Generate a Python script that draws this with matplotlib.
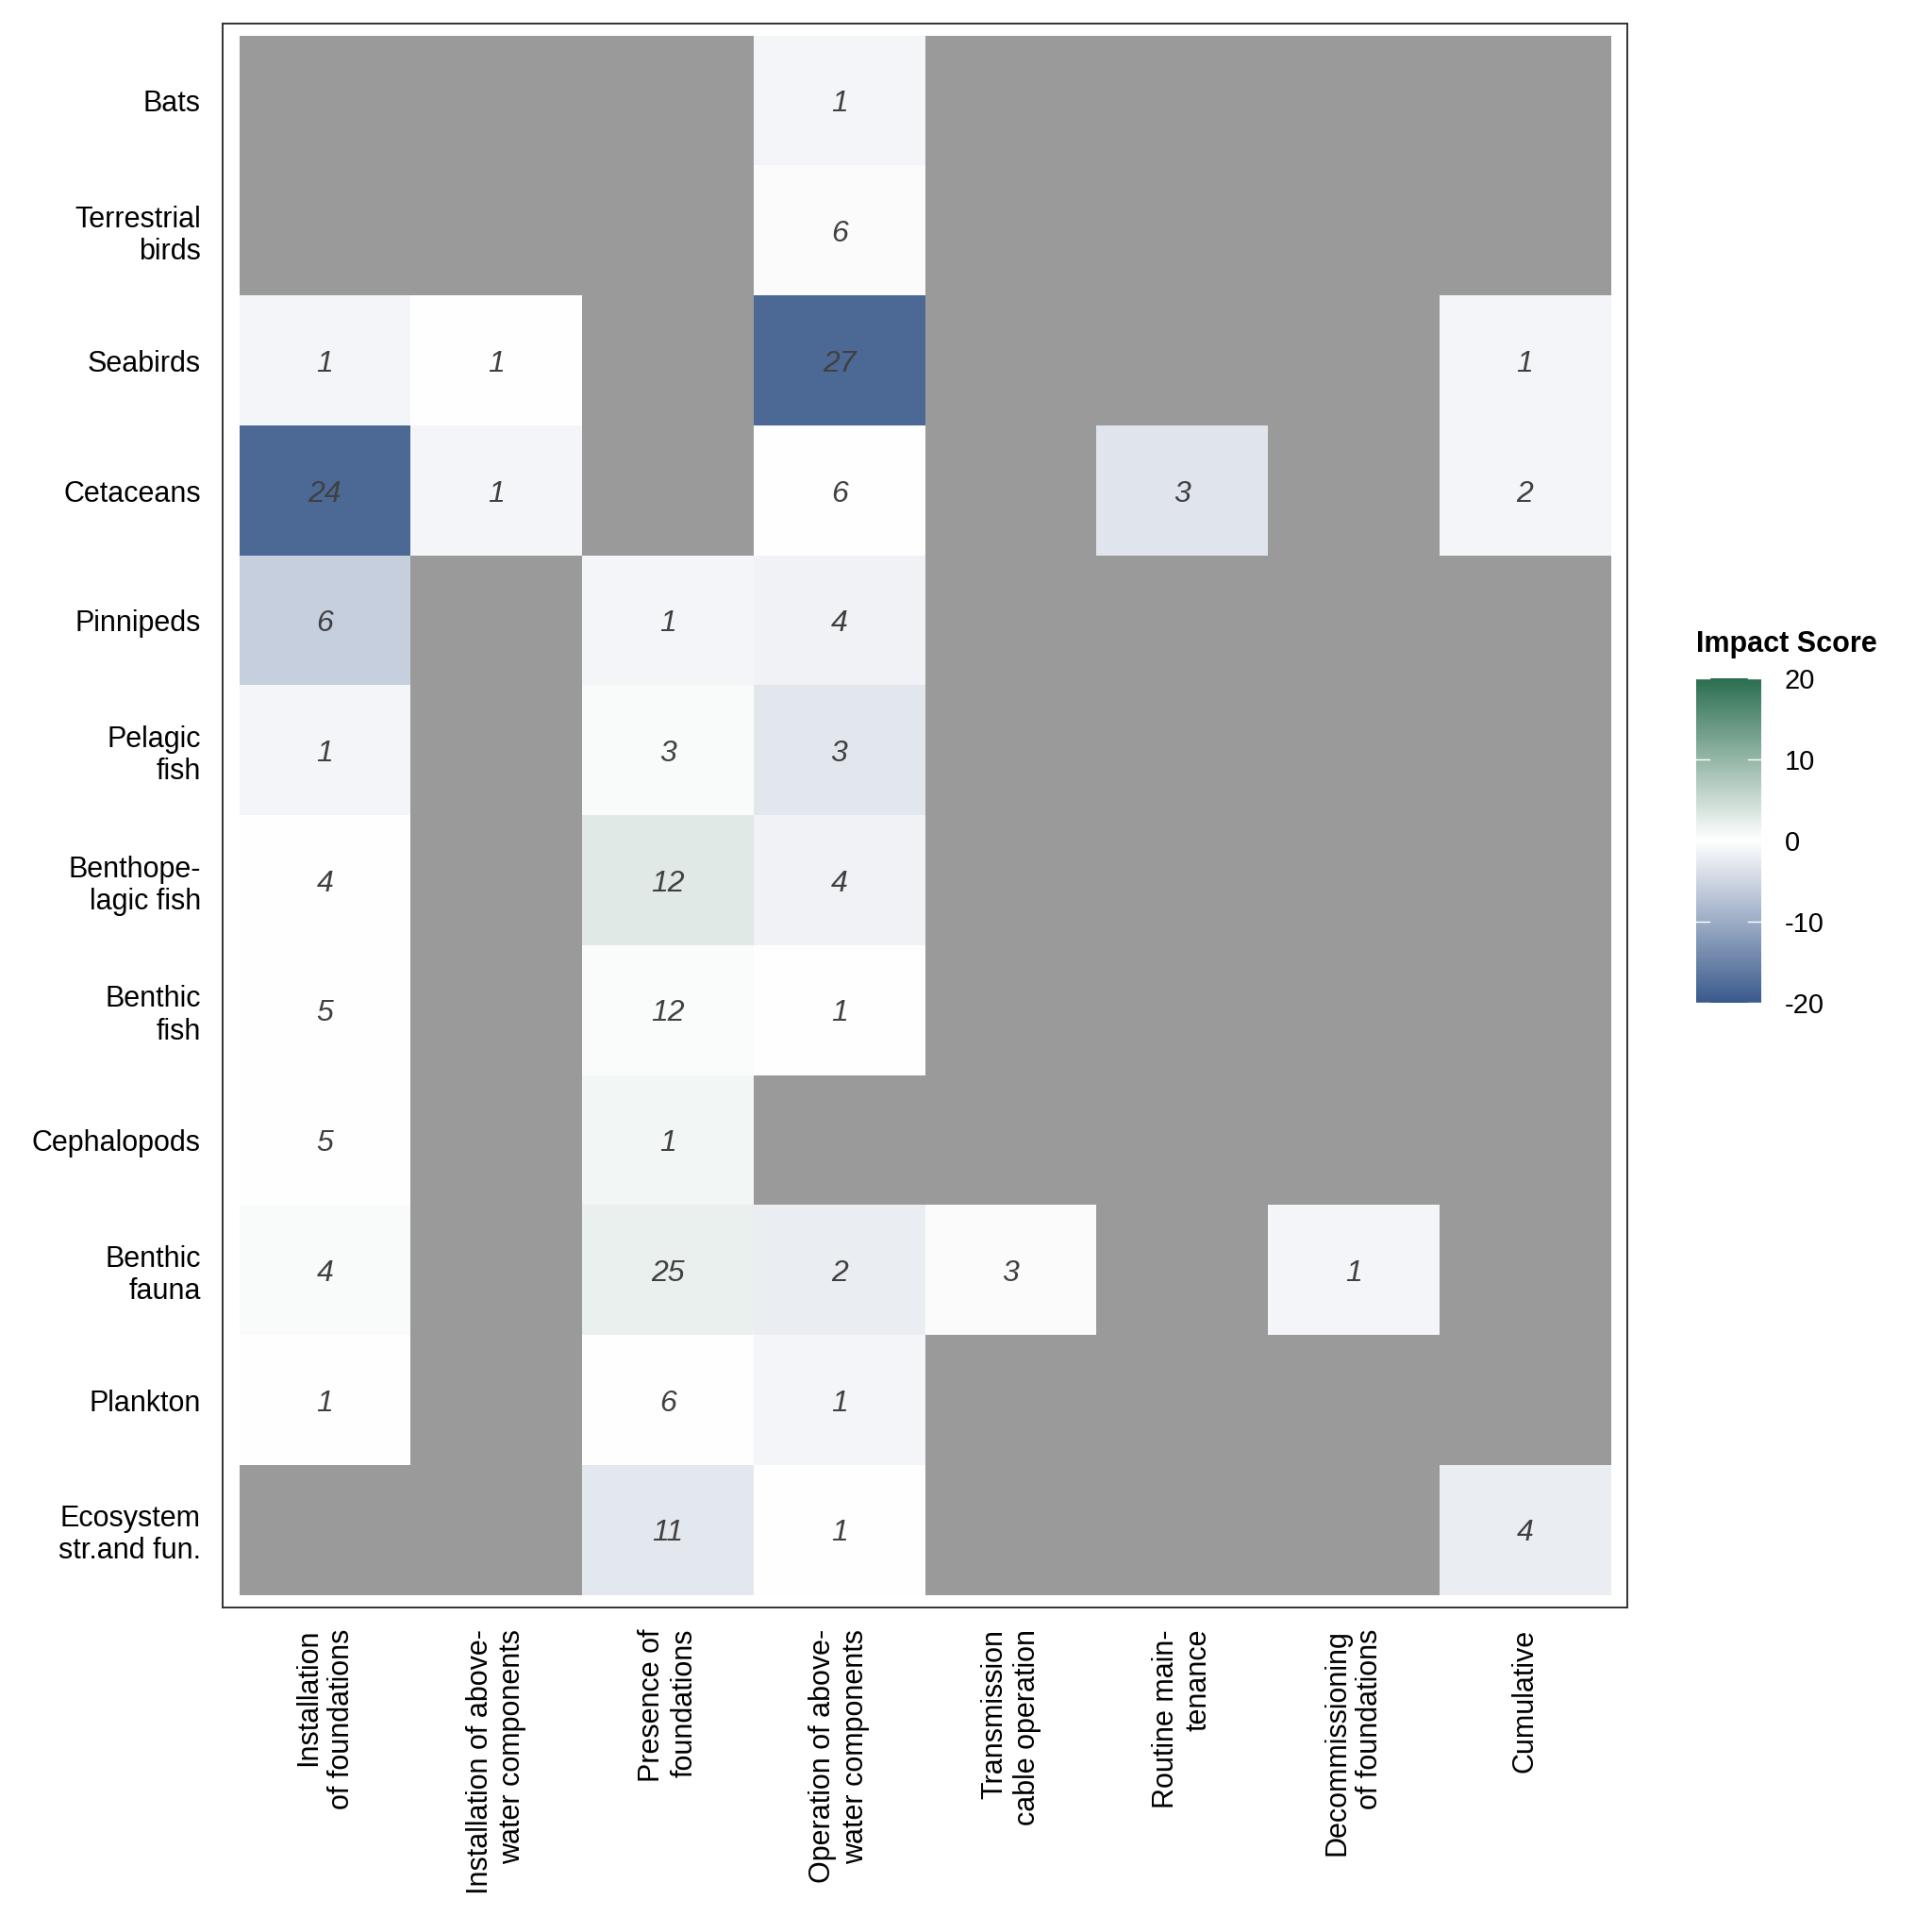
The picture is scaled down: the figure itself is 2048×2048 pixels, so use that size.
import numpy as np
import matplotlib
matplotlib.use("Agg")
import matplotlib.pyplot as plt
from matplotlib.colors import LinearSegmentedColormap

plt.rcParams["font.family"] = ["Liberation Sans", "DejaVu Sans"]
plt.rcParams["axes.unicode_minus"] = False

receptors = ["Bats", "Terrestrial\nbirds", "Seabirds", "Cetaceans", "Pinnipeds",
             "Pelagic\nfish", "Benthope-\nlagic fish", "Benthic\nfish", "Cephalopods",
             "Benthic\nfauna", "Plankton", "Ecosystem\nstr.and fun."]

pressures = ["Installation\nof foundations", "Installation of above-\nwater components",
             "Presence of\nfoundations", "Operation of above-\nwater components",
             "Transmission\ncable operation", "Routine main-\ntenance",
             "Decommissioning\nof foundations", "Cumulative"]

nan = np.nan

# number of studies per cell (nan = no data)
counts = [
    [nan, nan, nan, 1, nan, nan, nan, nan],
    [nan, nan, nan, 6, nan, nan, nan, nan],
    [1, 1, nan, 27, nan, nan, nan, 1],
    [24, 1, nan, 6, nan, 3, nan, 2],
    [6, nan, 1, 4, nan, nan, nan, nan],
    [1, nan, 3, 3, nan, nan, nan, nan],
    [4, nan, 12, 4, nan, nan, nan, nan],
    [5, nan, 12, 1, nan, nan, nan, nan],
    [5, nan, 1, nan, nan, nan, nan, nan],
    [4, nan, 25, 2, 3, nan, 1, nan],
    [1, nan, 6, 1, nan, nan, nan, nan],
    [nan, nan, 11, 1, nan, nan, nan, 4],
]

# impact score per cell (estimated from the fill colour)
scores = [
    [nan, nan, nan, -1.2, nan, nan, nan, nan],
    [nan, nan, nan, -0.4, nan, nan, nan, nan],
    [-1.2, 0.0, nan, -18.0, nan, nan, nan, -1.2],
    [-18.0, -1.2, nan, 0.0, nan, -3.0, nan, -1.2],
    [-5.7, nan, -1.1, -1.5, nan, nan, nan, nan],
    [-1.2, nan, 0.5, -2.9, nan, nan, nan, nan],
    [0.0, nan, 2.9, -1.5, nan, nan, nan, nan],
    [0.0, nan, 0.4, 0.0, nan, nan, nan, nan],
    [0.0, nan, 1.1, nan, nan, nan, nan, nan],
    [0.6, nan, 2.0, -2.1, -0.4, nan, -1.2, nan],
    [0.0, nan, 0.0, -1.2, nan, nan, nan, nan],
    [nan, nan, -2.8, 0.0, nan, nan, nan, -2.1],
]

score_arr = np.array(scores, dtype=float)
count_arr = np.array(counts, dtype=float)

cmap = LinearSegmentedColormap.from_list("impact", ["#3A5A8C", "#FFFFFF", "#2B6E50"])
cmap.set_bad("#9A9A9A")

fig = plt.figure(figsize=(10.24, 10.24), dpi=200)
ax = fig.add_axes([0.1152, 0.1680, 0.7271, 0.8199])

im = ax.imshow(np.ma.masked_invalid(score_arr), cmap=cmap, vmin=-20, vmax=20,
               aspect="auto", interpolation="nearest")

pad = 0.097
ax.set_xlim(-0.5 - pad, len(pressures) - 0.5 + pad)
ax.set_ylim(len(receptors) - 0.5 + pad, -0.5 - pad)

for i in range(len(receptors)):
    for j in range(len(pressures)):
        if not np.isnan(count_arr[i, j]):
            ax.text(j, i, f"{int(count_arr[i, j])}", ha="center", va="center_baseline",
                    fontsize=11.5, fontstyle="italic", color="#404040")

ax.set_xticks(range(len(pressures)))
ax.set_xticklabels(pressures, rotation=90, ha="center", va="top",
                   multialignment="right", fontsize=11, linespacing=1.2)
ax.set_yticks(range(len(receptors)))
ax.set_yticklabels(receptors, ha="right", va="center_baseline", multialignment="right",
                   fontsize=11, linespacing=1.18)
ax.tick_params(length=0, pad=8.3, colors="black")
for s in ax.spines.values():
    s.set_color("#333333")
    s.set_linewidth(0.7)

# colour bar
cax = fig.add_axes([0.8779, 0.4810, 0.0337, 0.1680])
cb = fig.colorbar(im, cax=cax, ticks=[-20, -10, 0, 10, 20])
cb.outline.set_visible(False)
cax.tick_params(length=0, pad=9, labelsize=10.5)
for t in [-20, -10, 0, 10, 20]:
    cax.plot([0, 0.2], [t, t], color="white", lw=0.5, transform=cax.get_yaxis_transform())
    cax.plot([0.8, 1.0], [t, t], color="white", lw=0.5, transform=cax.get_yaxis_transform())
fig.text(0.8779, 0.6665, "Impact Score", ha="left", va="center",
         fontsize=11, fontweight="bold")

fig.savefig("out.png", dpi=200, facecolor="white")
